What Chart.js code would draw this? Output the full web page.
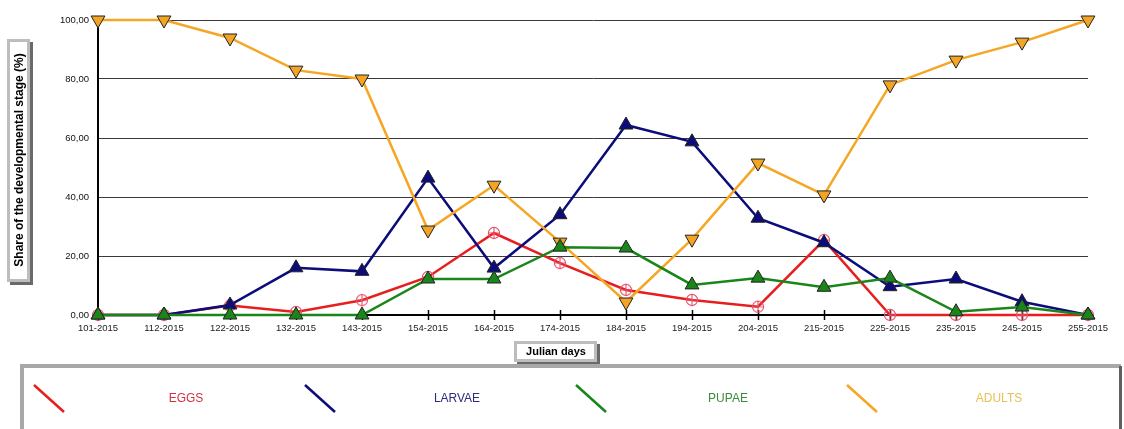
<!DOCTYPE html>
<html>
<head>
<meta charset="utf-8">
<script src="https://cdn.jsdelivr.net/npm/chart.js@4/dist/chart.umd.min.js"></script>
<style>
html,body{margin:0;padding:0;background:#fff;}
#wrap{position:relative;width:1124px;height:429px;}
</style>
</head>
<body>
<div id="wrap"><canvas id="c" width="1124" height="429"></canvas></div>
<script>
const categories = ["101-2015","112-2015","122-2015","132-2015","143-2015","154-2015","164-2015","174-2015","184-2015","194-2015","204-2015","215-2015","225-2015","235-2015","245-2015","255-2015"];
const seriesNames = ["EGGS","LARVAE","PUPAE","ADULTS"];
const eggs   = [0, 0, 3.2, 1, 5, 12.9, 27.8, 17.6, 8.5, 5.1, 2.8, 25.4, 0, 0, 0, 0];
const larvae = [0, 0, 3.4, 16, 14.8, 46.4, 15.9, 34, 64.4, 58.7, 32.8, 24.5, 9.6, 12.2, 4.5, 0];
const pupae  = [0, 0, 0, 0, 0, 12.2, 12.2, 23, 22.7, 10.2, 12.5, 9.4, 12.5, 1.1, 2.7, 0];
const adults = [100, 100, 93.9, 83, 80, 28.8, 44, 24.7, 4.4, 25.7, 51.5, 40.7, 78, 86.4, 92.5, 100];
const yTicks = [0, 20, 40, 60, 80, 100];
const yTitle = "Share of the developmental stage (%)";
const xTitle = "Julian days";

const lineColors = ["#e81e1e", "#0c0c7a", "#1a861a", "#f5a623"];
const legendTextColors = ["#d43040", "#2c2c80", "#3a8c3a", "#e8c050"];

function circlePlus(){
  const c = document.createElement('canvas');
  c.width = 14; c.height = 14;
  const g = c.getContext('2d');
  g.strokeStyle = '#e8506a'; g.lineWidth = 1.1;
  g.beginPath(); g.arc(7,7,5.6,0,Math.PI*2); g.stroke();
  g.beginPath(); g.moveTo(7,1.4); g.lineTo(7,12.6); g.moveTo(1.4,7); g.lineTo(12.6,7); g.stroke();
  return c;
}

const FONT = '"Liberation Sans", Arial, sans-serif';

const decor = {
  id: 'decor',
  beforeDatasetsDraw(chart){
    const ctx = chart.ctx;
    const xs = chart.scales.x, ys = chart.scales.y;
    const y0 = ys.getPixelForValue(0);
    ctx.save();
    ctx.strokeStyle = '#000'; ctx.lineWidth = 1.5;
    for (let i = 0; i < categories.length; i++){
      const x = Math.round(xs.getPixelForValue(i)) + 0.5;
      ctx.beginPath(); ctx.moveTo(x, y0 - 5); ctx.lineTo(x, y0 + 5); ctx.stroke();
    }
    ctx.restore();
  },
  afterDraw(chart){
    const ctx = chart.ctx;
    ctx.save();
    function box(x, y, w, h){
      ctx.fillStyle = '#6a6a6a';
      ctx.fillRect(x + 3, y + 3, w, h);
      ctx.fillStyle = '#bdbdbd';
      ctx.fillRect(x, y, w, h);
      ctx.fillStyle = '#fff';
      ctx.fillRect(x + 3, y + 3, w - 6, h - 6);
    }
    // Y title box
    box(7, 39, 23, 243);
    ctx.fillStyle = '#000';
    ctx.font = 'bold 12px ' + FONT;
    ctx.textAlign = 'center'; ctx.textBaseline = 'middle';
    ctx.translate(19.5, 160); ctx.rotate(-Math.PI/2);
    ctx.fillText(yTitle, 0, 0);
    ctx.setTransform(1,0,0,1,0,0);
    // X title box
    box(514, 341, 83, 21);
    ctx.fillStyle = '#000';
    ctx.font = 'bold 11px ' + FONT;
    ctx.fillText(xTitle, 556, 352);
    // Legend box
    ctx.fillStyle = '#a8a8a8';
    ctx.fillRect(20, 364, 1101, 4);
    ctx.fillRect(20, 364, 4, 70);
    ctx.fillStyle = '#606060';
    ctx.fillRect(1119, 366, 3, 70);
    ctx.fillStyle = '#fff';
    ctx.fillRect(24, 368, 1095, 70);
    const colW = 271;
    for (let i = 0; i < seriesNames.length; i++){
      const cx = 20 + i * colW;
      ctx.strokeStyle = lineColors[i]; ctx.lineWidth = 2.5;
      ctx.beginPath(); ctx.moveTo(cx + 14, 385); ctx.lineTo(cx + 44, 412); ctx.stroke();
      ctx.fillStyle = legendTextColors[i];
      ctx.font = '12px ' + FONT;
      ctx.textAlign = 'center'; ctx.textBaseline = 'middle';
      ctx.fillText(seriesNames[i], cx + 166, 399);
    }
    ctx.restore();
  }
};

const dataArrays = [eggs, larvae, pupae, adults];
const orders = [3, 2, 0, 1];
const datasets = seriesNames.map((name, i) => {
  const ds = {
    label: name,
    data: dataArrays[i],
    borderColor: lineColors[i],
    borderWidth: 2.5,
    tension: 0,
    order: orders[i],
    clip: false,
    pointBorderWidth: 1,
  };
  if (i === 0){
    ds.pointStyle = circlePlus();
    ds.pointRadius = 7;
    ds.backgroundColor = 'rgba(0,0,0,0)';
  } else {
    ds.pointStyle = 'triangle';
    ds.pointRadius = 8;
    ds.backgroundColor = lineColors[i];
    ds.pointBackgroundColor = i === 3 ? '#f4a424' : lineColors[i];
    ds.pointBorderColor = '#222';
    if (i === 3) ds.pointRotation = 180;
  }
  return ds;
});

new Chart(document.getElementById('c'), {
  type: 'line',
  data: { labels: categories, datasets },
  options: {
    responsive: false,
    animation: false,
    devicePixelRatio: 1,
    layout: { padding: { left: 0, right: 36, top: 20, bottom: 0 } },
    plugins: { legend: { display: false }, tooltip: { enabled: false } },
    scales: {
      x: {
        offset: false,
        grid: { display: false, drawTicks: false },
        border: { color: '#000', width: 2 },
        ticks: { color: '#222', font: { family: FONT, size: 9.5 }, padding: 8, maxRotation: 0, autoSkip: false },
        afterFit(s){ s.height = 114; }
      },
      y: {
        min: 0, max: 100,
        afterBuildTicks(s){ s.ticks = yTicks.map(v => ({ value: v })); },
        grid: {
          color: (c) => c.tick && c.tick.value === 0 ? '#000' : '#3a3a3a',
          lineWidth: (c) => c.tick && c.tick.value === 0 ? 2 : 1,
          drawTicks: false
        },
        border: { color: '#000', width: 2 },
        ticks: {
          color: '#111', font: { family: FONT, size: 9.5 }, padding: 9,
          callback: (v) => Number(v).toFixed(2).replace('.', ',')
        },
        afterFit(s){ s.width = 98; }
      }
    }
  },
  plugins: [decor]
});
</script>
</body>
</html>
